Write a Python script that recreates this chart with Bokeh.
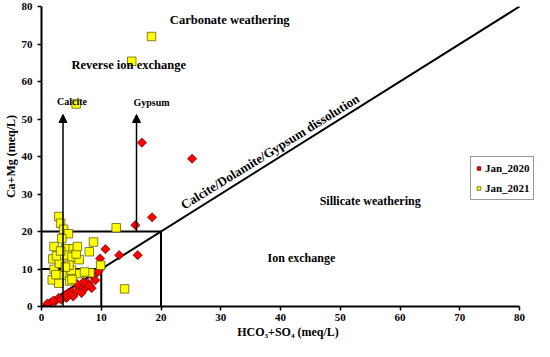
import numpy as np
from bokeh.plotting import figure
from bokeh.models import (Range1d, FixedTicker, Label, Arrow, NormalHead,
                          Legend, LegendItem)
from bokeh.embed import file_html
from bokeh.resources import INLINE

# ---- data ----
ticks = [0, 10, 20, 30, 40, 50, 60, 70, 80]

jan2020_x = [16.8, 25.2, 18.5, 15.7, 10.7, 13.0, 16.1, 9.8, 9.9, 9.5, 8.6, 7.8, 7.3, 6.7,
             6.2, 5.1, 4.5, 3.7, 2.9, 2.3, 1.5, 1.0, 5.9, 6.7, 5.3, 4.2, 8.4, 8.0, 3.3,
             7.0, 4.0, 9.0, 2.0, 6.0]
jan2020_y = [43.7, 39.4, 23.8, 21.7, 15.3, 13.7, 13.7, 12.8, 10.2, 9.3, 8.0, 6.2, 4.9, 5.8,
             5.3, 4.0, 3.6, 2.7, 2.3, 1.4, 1.0, 0.8, 4.0, 3.6, 2.7, 2.3, 4.9, 5.6, 1.8,
             6.5, 3.0, 7.0, 1.6, 6.0]

jan2021_x = [18.4, 15.1, 5.8, 12.5, 13.9, 9.9, 2.9, 3.2, 3.7, 4.5, 3.4, 2.1, 4.0, 5.3, 8.7,
             8.0, 4.3, 5.1, 1.9, 6.3, 2.1, 3.4, 5.0, 6.4, 8.1, 7.2, 1.8, 2.9, 4.7, 5.1,
             4.6, 3.0, 5.8, 2.5, 6.0, 4.0, 3.2, 2.4]
jan2021_y = [72.0, 65.4, 54.0, 21.0, 4.7, 11.0, 24.0, 22.2, 20.6, 19.4, 18.1, 16.0, 15.4,
             15.4, 17.2, 14.6, 13.7, 13.2, 12.7, 12.5, 9.9, 8.4, 9.7, 8.8, 9.0, 9.2, 7.1,
             6.2, 6.8, 7.2, 11.0, 11.5, 14.0, 13.5, 16.0, 10.5, 14.8, 8.5]

# reference lines of the diagram
box20_x = [0, 20, 20]
box20_y = [20, 20, 0]
box10_x = [0, 10, 10]
box10_y = [10, 10, 0]
diag_x = [0, 80]
diag_y = [0, 80]

FONT = "Liberation Serif"

p = figure(width=534, height=341, x_range=Range1d(0, 82.5), y_range=Range1d(0, 80),
           output_backend="svg", toolbar_location=None,
           min_border_left=32, min_border_right=0, min_border_top=6, min_border_bottom=0)
p.grid.visible = False
p.outline_line_color = None
p.background_fill_color = "white"
p.border_fill_color = "white"

for ax in (p.xaxis[0], p.yaxis[0]):
    ax.ticker = FixedTicker(ticks=ticks)
    ax.minor_tick_line_color = None
    ax.major_tick_in = 0
    ax.major_tick_out = 4
    ax.major_tick_line_width = 1.5
    ax.axis_line_width = 2
    ax.axis_line_color = "black"
    ax.major_tick_line_color = "black"
    ax.major_label_text_font = FONT
    ax.major_label_text_font_style = "bold"
    ax.major_label_text_font_size = "11px"
    ax.major_label_text_color = "black"
    ax.axis_label_text_font = FONT
    ax.axis_label_text_font_style = "bold"
    ax.axis_label_text_font_size = "12px"
    ax.axis_label_text_color = "black"

p.xaxis.bounds = (0, 80)
p.xaxis.axis_label = "HCO\u2083+SO\u2084 (meq/L)"
p.yaxis.axis_label = "Ca+Mg (meq/L)"
p.xaxis.major_label_standoff = 3
p.xaxis.axis_label_standoff = 1
p.yaxis.major_label_standoff = 5
p.yaxis.axis_label_standoff = 1

# region lines
p.line(box20_x, box20_y, line_color="black", line_width=2)
p.line(box10_x, box10_y, line_color="black", line_width=2)
p.line(diag_x, diag_y, line_color="black", line_width=2)

# arrows
p.add_layout(Arrow(end=NormalHead(size=8, fill_color="black", line_color="black"),
                   x_start=3.6, y_start=0, x_end=3.6, y_end=51.2,
                   line_color="black", line_width=1.5))
p.add_layout(Arrow(end=NormalHead(size=8, fill_color="black", line_color="black"),
                   x_start=15.9, y_start=20, x_end=15.9, y_end=51.2,
                   line_color="black", line_width=1.5))

def lab(x, y, t, size="12px", align="center", angle=0.0, baseline="middle"):
    p.add_layout(Label(x=x, y=y, text=t, text_font=FONT, text_font_style="bold",
                       text_font_size=size, text_align=align, text_baseline=baseline,
                       angle=angle, text_color="black"))

lab(31.5, 76.3, "Carbonate weathering", "12.5px")
lab(5.0, 64.5, "Reverse ion exchange", "12.5px", align="left")
lab(2.6, 54.8, "Calcite", "10px", align="left")
lab(15.4, 54.5, "Gypsum", "10px", align="left")
lab(55.0, 28.1, "Sillicate weathering", "12px")
lab(43.5, 12.9, "Ion exchange", "12px")
ang = float(np.arctan2(300, 486))
lab(38.9, 39.6, "Calcite/Dolamite/Gypsum dissolution", "13px", angle=ang, baseline="bottom")

# points
r1 = p.scatter(jan2020_x, jan2020_y, marker="square", angle=np.pi / 4, size=6.5,
               fill_color="#FF0000", line_color="#5a0000", line_width=0.7)
r2 = p.scatter(jan2021_x, jan2021_y, marker="square", size=8.5,
               fill_color="#FFFF00", line_color="#4d4d00", line_width=0.7)

legend = Legend(items=[LegendItem(label="Jan_2020", renderers=[r1]),
                       LegendItem(label="Jan_2021", renderers=[r2])],
                location=(429, 106))
legend.label_text_font = FONT
legend.label_text_font_style = "bold"
legend.label_text_font_size = "11px"
legend.label_text_color = "black"
legend.glyph_width = 9
legend.glyph_height = 10
legend.label_standoff = 2
legend.label_height = 16
legend.label_width = 10
legend.padding = 3
legend.spacing = 4
legend.margin = 0
legend.border_line_color = "#333333"
legend.border_line_width = 1.5
legend.background_fill_color = "white"
legend.background_fill_alpha = 1.0
p.add_layout(legend)

open("out.html", "w").write(file_html(p, INLINE))
